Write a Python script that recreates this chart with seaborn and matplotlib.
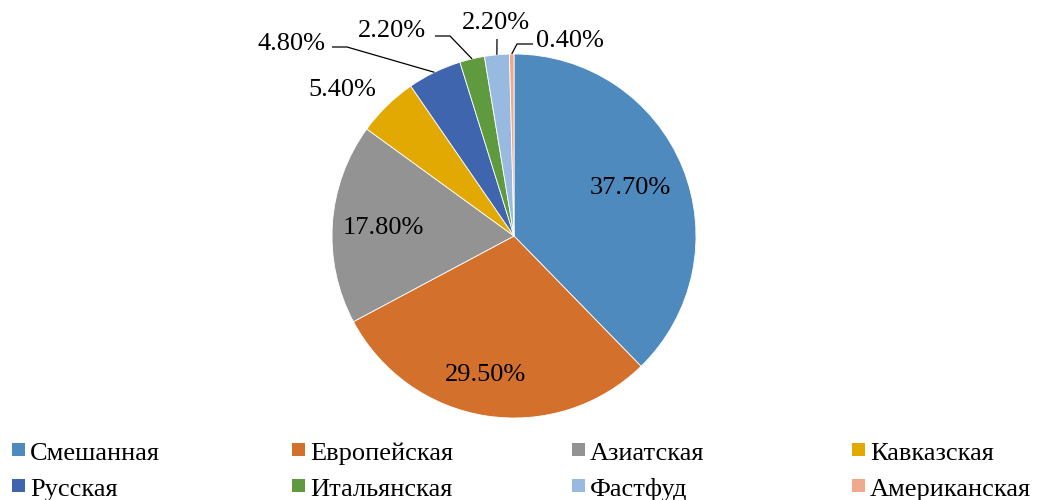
import numpy as np
import seaborn as sns
import matplotlib
matplotlib.use('Agg')
import matplotlib.pyplot as plt
from matplotlib.patches import Rectangle

# data
categories = ['Смешанная', 'Европейская', 'Азиатская', 'Кавказская',
              'Русская', 'Итальянская', 'Фастфуд', 'Американская']
shares = [37.7, 29.5, 17.8, 5.4, 4.8, 2.2, 2.2, 0.4]
colors = ['#4F8ABE', '#D3702C', '#939393', '#E2A902',
          '#3E65AE', '#5F9A3E', '#98B9E0', '#F0A98A']

sns.set_theme(style='white')
plt.rcParams['font.family'] = ['Liberation Serif', 'DejaVu Serif']

W, H = 1037, 500
cx, cy, R = 514, 236, 182

fig = plt.figure(figsize=(W / 100, H / 100), dpi=100)
ax = fig.add_axes([0, 0, 1, 1])


def px(x, y):
    # pixel position -> data units around the pie centre
    return (x - cx) / R, (cy - y) / R


wedges, _ = ax.pie(shares, colors=colors, startangle=90, counterclock=False,
                   radius=1, wedgeprops=dict(edgecolor='white', linewidth=0.6))

# pie() resets limits, so set them afterwards
ax.set_xlim(-cx / R, (W - cx) / R)
ax.set_ylim((cy - H) / R, cy / R)
ax.set_aspect('equal')
ax.axis('off')

fs = 19
labels = [f'{v:.2f}%' for v in shares]

# label positions (px); leader line elbows (px) for the small slices
label_pos = {
    0: dict(text=(630, 188), path=None),
    1: dict(text=(485, 375), path=None),
    2: dict(text=(383, 228), path=None),
    3: dict(text=(342, 90), path=None),
    4: dict(text=(292, 44), path=[(332, 47), (347, 47)]),
    5: dict(text=(392, 31), path=[(435, 36), (450, 36)]),
    6: dict(text=(496, 23), path=[(497, 39)]),
    7: dict(text=(570, 41), path=[(533, 44), (517, 44)]),
}
for i, o in label_pos.items():
    tx, ty = px(*o['text'])
    ax.text(tx, ty, labels[i], fontsize=fs, ha='center', va='center', color='black')
    if o['path']:
        w = wedges[i]
        ang = np.deg2rad((w.theta1 + w.theta2) / 2)
        pts = [px(*p) for p in o['path']] + [(np.cos(ang), np.sin(ang))]
        xs, ys = zip(*pts)
        ax.plot(xs, ys, color='black', linewidth=0.9, solid_capstyle='butt')

# legend: 4 equal-width columns, two rows (Excel style)
col_x = [12, 292, 572, 852]
row_base = [460, 496]
box = 13
for k, (name, col) in enumerate(zip(categories, colors)):
    x0 = col_x[k % 4]
    yb = row_base[k // 4]
    fig.patches.append(Rectangle((x0 / W, 1 - (yb - 4) / H), box / W, box / H,
                                 transform=fig.transFigure, facecolor=col,
                                 edgecolor='none'))
    fig.text((x0 + 18) / W, 1 - yb / H, name, fontsize=fs, ha='left',
             va='baseline', color='black')

fig.savefig('out.png', dpi=100)
plt.close(fig)
